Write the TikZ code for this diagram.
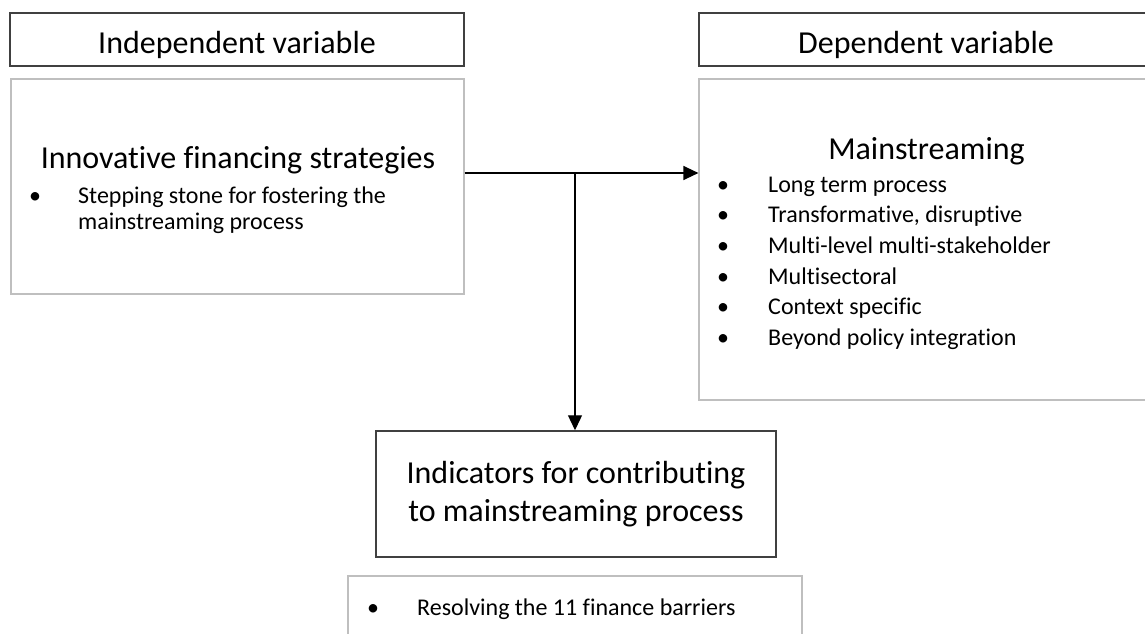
\documentclass[tikz,border=0pt]{standalone}
\usepackage{fontspec}
\setmainfont[Ligatures=NoCommon]{Carlito}
\usetikzlibrary{arrows.meta}

\newcommand{\headsize}{\fontsize{32}{38}\selectfont}
\newcommand{\listsize}{\fontsize{24}{27}\selectfont}

\tikzset{
	titlebox/.style={draw=black!75, line width=1.5pt, inner sep=0pt},
	greybox/.style={draw=black!25, line width=1.2pt, inner sep=0pt},
	conn/.style={line width=1.3pt, -{Triangle[length=15pt,width=14pt]}},
}

\begin{document}
\begin{tikzpicture}[x=1pt,y=-1pt]
	\clip (0,0) rectangle (1145,634);

	% left column
	\node[titlebox, minimum width=454pt, minimum height=53pt] (indep) at (237,39.5) {};
	\node[anchor=base, font=\headsize] (indeptxt) at (237,54) {Independent variable};
	\node[greybox, minimum width=453pt, minimum height=215pt] (innov) at (237.5,186.5) {};
	\node[anchor=base, font=\headsize] (innovtxt) at (238,168) {Innovative financing strategies};
	\node[anchor=base, font=\listsize] (innovb) at (35,203) {\textbullet};
	\node[anchor=base west, inner sep=0pt, font=\listsize] (innovi) at (78,203) {Stepping stone for fostering the};
	\node[anchor=base west, inner sep=0pt, font=\listsize] (innovj) at (78,229) {mainstreaming process};

	% right column
	\node[titlebox, minimum width=454pt, minimum height=53pt] (dep) at (926,39.5) {};
	\node[anchor=base, font=\headsize] (deptxt) at (926,54) {Dependent variable};
	\node[greybox, minimum width=454pt, minimum height=321pt] (mainbox) at (926,239.5) {};
	\node[anchor=base, font=\headsize] (maintxt) at (926.5,159) {Mainstreaming};
	\node[anchor=base, font=\listsize] (mainb1) at (723,192) {\textbullet};
	\node[anchor=base west, inner sep=0pt, font=\listsize] (maini1) at (768,192) {Long term process};
	\node[anchor=base, font=\listsize] (mainb2) at (723,222.5) {\textbullet};
	\node[anchor=base west, inner sep=0pt, font=\listsize] (maini2) at (768,222.5) {Transformative, disruptive};
	\node[anchor=base, font=\listsize] (mainb3) at (723,253) {\textbullet};
	\node[anchor=base west, inner sep=0pt, font=\listsize] (maini3) at (768,253) {Multi-level multi-stakeholder};
	\node[anchor=base, font=\listsize] (mainb4) at (723,284) {\textbullet};
	\node[anchor=base west, inner sep=0pt, font=\listsize] (maini4) at (768,284) {Multisectoral};
	\node[anchor=base, font=\listsize] (mainb5) at (723,314.5) {\textbullet};
	\node[anchor=base west, inner sep=0pt, font=\listsize] (maini5) at (768,314.5) {Context specific};
	\node[anchor=base, font=\listsize] (mainb6) at (723,345) {\textbullet};
	\node[anchor=base west, inner sep=0pt, font=\listsize] (maini6) at (768,345) {Beyond policy integration};

	% bottom
	\node[titlebox, minimum width=400pt, minimum height=126pt, align=center, font=\headsize] (ind) at (576,494) {Indicators for contributing\\to mainstreaming process};
	\node[greybox, minimum width=454pt, minimum height=80pt] (resbox) at (575,616) {};
	\node[anchor=base, font=\listsize] (resb) at (373,615) {\textbullet};
	\node[anchor=base west, inner sep=0pt, font=\listsize] (resi) at (417,615) {Resolving the 11 finance barriers};

	% connectors
	\coordinate (split) at (575,173);
	\draw[conn] (innov.east |- split) -- (mainbox.west |- split);
	\draw[conn] (split) -- (split |- ind.north);
\end{tikzpicture}
\end{document}
